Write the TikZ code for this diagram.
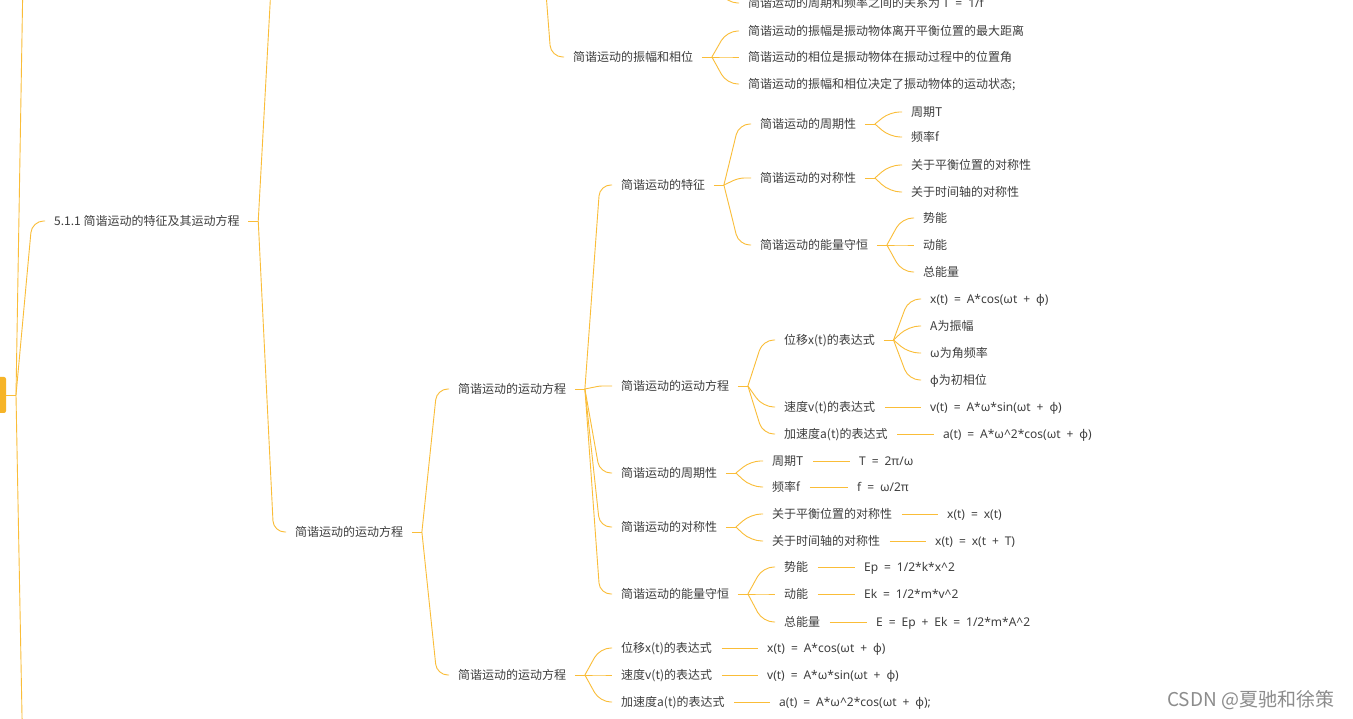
\documentclass[tikz,border=0pt]{standalone}
\usepackage{fontspec}
\setmainfont{Noto Sans CJK SC}
\newfontfamily\lat[WordSpace=1.9]{Noto Sans}
\usetikzlibrary{calc}
\definecolor{lc}{RGB}{250,189,56}
\definecolor{rootc}{RGB}{246,180,40}
\definecolor{txt}{RGB}{62,62,62}
\definecolor{wmc}{RGB}{140,140,140}
\tikzset{
  tx/.style={anchor=west, inner sep=0pt, text height=9pt, text depth=0pt, text=txt, font=\fontsize{12pt}{14pt}\selectfont},
  fx/.style={tx, font=\fontsize{12pt}{14pt}\selectfont\lat},
  link/.style={draw=lc, line width=0.9pt},
}
% curved connector from a fork point to an end point
\newcommand\lnkp[2]{\draw[link] let \p1=(#1), \p2=#2, \n1={\x1+0.55*(\x2-\x1)}, \n2={max(0.01pt,min(12pt,0.8*abs(\y2-\y1),0.9*(\x2-\n1)))} in (\p1) [rounded corners=\n2] -- (\n1,\y2) -- (\p2);}
\newcommand\lnk[2]{\lnkp{#1}{($(#2.west)+(-9,0)$)}}
% stub after a parent text, ending at its fork
\newcommand\stub[2]{\coordinate (#2) at ($(#1.east)+(18.5,0)$); \draw[link] ($(#1.east)+(8.5,0)$) -- (#2);}
% straight line between a leaf and its value
\newcommand\pair[2]{\draw[link] ($(#1.east)+(9.5,0)$) -- ($(#2.west)+(-9.5,0)$);}
\begin{document}
\begin{tikzpicture}[x=1pt,y=-1pt]
\useasboundingbox (0,0) rectangle (1353,719);
\clip (0,0) rectangle (1353,719);
\fill[white] (0,0) rectangle (1353,719);

% root
\node[fill=rootc, rounded corners=2pt, minimum width=20pt, minimum height=36pt, inner sep=0pt] (root) at (-4,395) {};
\coordinate (fR) at (16,395);
\draw[link] (root.east) -- (fR);

% level 1
\node[tx] (n511) at (54,221) {5.1.1 简谐运动的特征及其运动方程};
\lnkp{fR}{(38,-330)}
\lnkp{fR}{(40,1100)}
\lnk{fR}{n511}
\stub{n511}{f511}
\lnkp{f511}{(300,-200)}

% upper part (partly above the picture)
\coordinate (fUp) at (535,-150);
\coordinate (fP) at (711,-23);
\node[tx] (nT) at (748,3) {简谐运动的周期和频率之间的关系为 {\lat T = 1/f}};
\lnk{fP}{nT}
\node[tx] (nA) at (573,57) {简谐运动的振幅和相位};
\lnk{fUp}{nA}
\stub{nA}{fA}
\node[tx] (nA1) at (748,31) {简谐运动的振幅是振动物体离开平衡位置的最大距离};
\node[tx] (nA2) at (748,57) {简谐运动的相位是振动物体在振动过程中的位置角};
\node[tx] (nA3) at (748,84) {简谐运动的振幅和相位决定了振动物体的运动状态;};
\lnk{fA}{nA1}
\lnk{fA}{nA2}
\lnk{fA}{nA3}

% level 2
\node[tx] (nB) at (295,532) {简谐运动的运动方程};
\lnk{f511}{nB}
\stub{nB}{fB}
\node[tx] (nB1) at (458,389) {简谐运动的运动方程};
\node[tx] (nB2) at (458,675) {简谐运动的运动方程};
\lnk{fB}{nB1}
\lnk{fB}{nB2}
\stub{nB1}{fB1}
\stub{nB2}{fB2}

% children of nB1
\node[tx] (c1) at (621,185) {简谐运动的特征};
\node[tx] (c2) at (621,386) {简谐运动的运动方程};
\node[tx] (c3) at (621,473) {简谐运动的周期性};
\node[tx] (c4) at (621,527) {简谐运动的对称性};
\node[tx] (c5) at (621,594) {简谐运动的能量守恒};
\foreach \c in {c1,c2,c3,c4,c5} {\lnk{fB1}{\c}}
\stub{c1}{fc1}
\stub{c2}{fc2}
\stub{c3}{fc3}
\stub{c4}{fc4}
\stub{c5}{fc5}

% under c1
\node[tx] (c11) at (760,124) {简谐运动的周期性};
\node[tx] (c12) at (760,178) {简谐运动的对称性};
\node[tx] (c13) at (760,245) {简谐运动的能量守恒};
\foreach \c in {c11,c12,c13} {\lnk{fc1}{\c}}
\stub{c11}{fc11}
\stub{c12}{fc12}
\stub{c13}{fc13}
\node[tx] (c111) at (911,112) {周期T};
\node[tx] (c112) at (911,137) {频率f};
\lnk{fc11}{c111}
\lnk{fc11}{c112}
\node[tx] (c121) at (911,165) {关于平衡位置的对称性};
\node[tx] (c122) at (911,192) {关于时间轴的对称性};
\lnk{fc12}{c121}
\lnk{fc12}{c122}
\node[tx] (c131) at (923,218) {势能};
\node[tx] (c132) at (923,245) {动能};
\node[tx] (c133) at (923,272) {总能量};
\lnk{fc13}{c131}
\lnk{fc13}{c132}
\lnk{fc13}{c133}

% under c2
\node[tx] (c21) at (784,340) {位移x(t)的表达式};
\node[tx] (c22) at (784,407) {速度v(t)的表达式};
\node[tx] (c23) at (784,434) {加速度a(t)的表达式};
\foreach \c in {c21,c22,c23} {\lnk{fc2}{\c}}
\stub{c21}{fc21}
\node[fx] (c211) at (930,299) {x(t) = A*cos(ωt + φ)};
\node[tx] (c212) at (930,326) {A为振幅};
\node[tx] (c213) at (930,353) {{\lat ω}为角频率};
\node[tx] (c214) at (930,380) {{\lat φ}为初相位};
\foreach \c in {c211,c212,c213,c214} {\lnk{fc21}{\c}}
\node[fx] (c221) at (930,407) {v(t) = A*ω*sin(ωt + φ)};
\node[fx] (c231) at (943,434) {a(t) = A*ω\textasciicircum 2*cos(ωt + φ)};
\pair{c22}{c221}
\pair{c23}{c231}

% under c3
\node[tx] (c31) at (772,461) {周期T};
\node[tx] (c32) at (772,487) {频率f};
\lnk{fc3}{c31}
\lnk{fc3}{c32}
\node[fx] (c311) at (859,461) {T = 2π/ω};
\node[fx] (c321) at (857,487) {f = ω/2π};
\pair{c31}{c311}
\pair{c32}{c321}

% under c4
\node[tx] (c41) at (772,514) {关于平衡位置的对称性};
\node[tx] (c42) at (772,541) {关于时间轴的对称性};
\lnk{fc4}{c41}
\lnk{fc4}{c42}
\node[fx] (c411) at (947,514) {x(t) = x(t)};
\node[fx] (c421) at (935,541) {x(t) = x(t + T)};
\pair{c41}{c411}
\pair{c42}{c421}

% under c5
\node[tx] (c51) at (784,567) {势能};
\node[tx] (c52) at (784,594) {动能};
\node[tx] (c53) at (784,622) {总能量};
\foreach \c in {c51,c52,c53} {\lnk{fc5}{\c}}
\node[fx] (c511) at (864,567) {Ep = 1/2*k*x\textasciicircum 2};
\node[fx] (c521) at (864,594) {Ek = 1/2*m*v\textasciicircum 2};
\node[fx] (c531) at (876,622) {E = Ep + Ek = 1/2*m*A\textasciicircum 2};
\pair{c51}{c511}
\pair{c52}{c521}
\pair{c53}{c531}

% children of nB2
\node[tx] (d1) at (621,648) {位移x(t)的表达式};
\node[tx] (d2) at (621,675) {速度v(t)的表达式};
\node[tx] (d3) at (621,702) {加速度a(t)的表达式};
\foreach \c in {d1,d2,d3} {\lnk{fB2}{\c}}
\node[fx] (d11) at (767,648) {x(t) = A*cos(ωt + φ)};
\node[fx] (d21) at (767,675) {v(t) = A*ω*sin(ωt + φ)};
\node[fx] (d31) at (779,702) {a(t) = A*ω\textasciicircum 2*cos(ωt + φ);};
\pair{d1}{d11}
\pair{d2}{d21}
\pair{d3}{d31}

% watermark
\node[anchor=west, inner sep=0pt, text=wmc, font=\fontsize{19pt}{22pt}\selectfont] (wm) at (1167,700) {CSDN @夏驰和徐策};
\end{tikzpicture}
\end{document}
